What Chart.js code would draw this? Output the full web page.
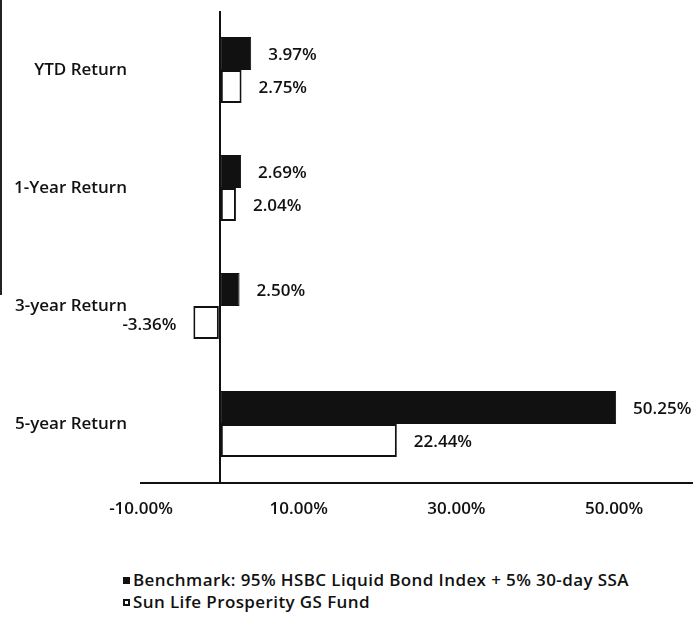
<!DOCTYPE html>
<html>
<head>
<meta charset="utf-8">
<script src="https://cdn.jsdelivr.net/npm/chart.js@4/dist/chart.umd.min.js"></script>
<style>
    html, body { margin: 0; padding: 0; background: #fff; }
    body { width: 693px; height: 619px; position: relative; overflow: hidden; font-family: 'Open Sans', sans-serif; color: #111; }
    #wrap { position: absolute; left: 0; top: 0; width: 693px; height: 530px; }
    #edge { position: absolute; left: 0; top: 0; width: 2px; height: 295px; background: #222; }
    #legend { position: absolute; left: 123px; top: 569px; font-size: 17px; font-weight: 600; line-height: 22px; letter-spacing: 0.4px; }
    #legend .item { display: flex; align-items: center; white-space: nowrap; }
    #legend .box { width: 7px; height: 7px; margin-right: 3px; box-sizing: border-box; border: 2px solid #111; }
</style>
</head>
<body>
<div id="edge"></div>
<div id="wrap"><canvas id="returnsChart"></canvas></div>
<div id="legend"></div>

<script>
// ─── DATOS ────────────────────────────────────────────────────
const categories = ['YTD Return', '1-Year Return', '3-year Return', '5-year Return'];
const benchmarkValues = [3.97, 2.69, 2.50, 50.25];
const fundValues = [2.75, 2.04, -3.36, 22.44];
const xTickValues = [-10, 0, 10, 30, 50];
const seriesNames = ['Benchmark: 95% HSBC Liquid Bond Index + 5% 30-day SSA', 'Sun Life Prosperity GS Fund'];
const seriesFills = ['#111111', '#ffffff'];

const FONT = { family: "'Open Sans', sans-serif", size: 17, weight: '600' };

// etiquetas de valor al final de cada barra
const valueLabels = {
    id: 'valueLabels',
    afterDatasetsDraw(chart) {
        const ctx = chart.ctx;
        ctx.save();
        ctx.font = `${FONT.weight} ${FONT.size}px ${FONT.family}`;
        ctx.fillStyle = '#111';
        ctx.textBaseline = 'middle';
        chart.data.datasets.forEach((ds, i) => {
            chart.getDatasetMeta(i).data.forEach((bar, j) => {
                const v = ds.data[j];
                const txt = `${v.toFixed(2)}%`;
                if (v >= 0) {
                    ctx.textAlign = 'left';
                    ctx.fillText(txt, bar.x + 17, bar.y + 2);
                } else {
                    ctx.textAlign = 'right';
                    ctx.fillText(txt, bar.x - 17, bar.y + 3);
                }
            });
        });
        ctx.restore();
    }
};

new Chart(document.getElementById('returnsChart').getContext('2d'), {
    type: 'bar',
    data: {
        labels: categories,
        datasets: [
            { label: seriesNames[0], data: benchmarkValues, backgroundColor: seriesFills[0], borderColor: '#111', borderWidth: 1, borderSkipped: false },
            { label: seriesNames[1], data: fundValues, backgroundColor: seriesFills[1], borderColor: '#111', borderWidth: 2, borderSkipped: false }
        ]
    },
    options: {
        indexAxis: 'y',
        responsive: true,
        maintainAspectRatio: false,
        animation: false,
        layout: { padding: { top: 11, right: 0, left: 0, bottom: 0 } },
        datasets: { bar: { categoryPercentage: 0.56, barPercentage: 1.0 } },
        scales: {
            x: {
                min: -10,
                max: 60,
                afterBuildTicks: (scale) => { scale.ticks = xTickValues.map(v => ({ value: v })); },
                afterFit: (scale) => { scale.height = 47; scale.paddingLeft = 0; scale.paddingRight = 0; },
                border: { display: true, color: '#111', width: 2 },
                grid: {
                    drawTicks: false,
                    lineWidth: 2,
                    color: (c) => (c.tick && c.tick.value === 0 ? '#111' : 'rgba(0,0,0,0)')
                },
                ticks: {
                    padding: 16,
                    color: '#111',
                    font: FONT,
                    autoSkip: false,
                    maxRotation: 0,
                    callback: (v) => (v === 0 ? '' : `${v.toFixed(2)}%`)
                }
            },
            y: {
                afterFit: (scale) => { scale.width = 141; scale.paddingTop = 0; scale.paddingBottom = 0; },
                border: { display: false },
                grid: { display: false, drawTicks: false },
                ticks: { padding: 14, color: '#111', font: FONT }
            }
        },
        plugins: {
            legend: { display: false },
            tooltip: { enabled: false }
        }
    },
    plugins: [valueLabels]
});

// leyenda en html, una serie por linea
const legendEl = document.getElementById('legend');
seriesNames.forEach((name, i) => {
    const row = document.createElement('div');
    row.className = 'item';
    row.innerHTML = `<span class="box" style="background:${seriesFills[i]}"></span><span>${name}</span>`;
    legendEl.appendChild(row);
});
</script>
</body>
</html>
